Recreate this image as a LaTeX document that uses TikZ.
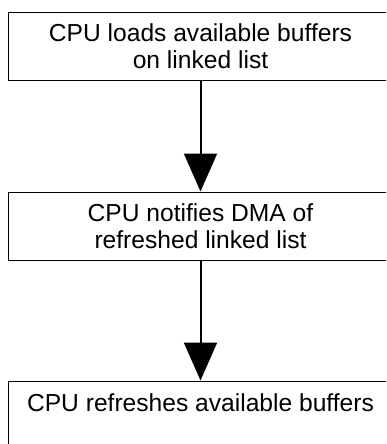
\documentclass[tikz,border=0pt]{standalone}
\usepackage{fontspec}
\setmainfont{Liberation Sans}
\usetikzlibrary{arrows.meta}
\begin{document}
\begin{tikzpicture}[x=1pt,y=1pt,
  box/.style={draw=black, line width=1pt, minimum width=385pt, inner sep=0pt},
  txt/.style={align=center, font=\fontsize{24.6}{27}\selectfont, inner sep=0pt},
  arr/.style={line width=2pt, -{Triangle[width=33pt,length=38pt]}}]
\useasboundingbox (0,0) rectangle (386,-444);
\clip (0,0) rectangle (386,-444);
\fill[white] (0,0) rectangle (386,-444);
\node[box, minimum height=67pt] (b1) at (200.5,-46.5) {};
\node[txt] (t1) at (200.5,-46.5) {CPU loads available buffers\\on linked list};
\node[box, minimum height=68pt] (b2) at (200.5,-226) {};
\node[txt] (t2) at (200.5,-226) {CPU notifies DMA of\\refreshed linked list};
\node[box, minimum height=100pt, anchor=north] (b3) at (200.5,-380.5) {};
\node[txt] (t3) at (200.5,-403) {CPU refreshes available buffers};
\draw[arr] (b1.south) -- (b2.north);
\draw[arr] (b2.south) -- (b3.north);
\end{tikzpicture}
\end{document}
